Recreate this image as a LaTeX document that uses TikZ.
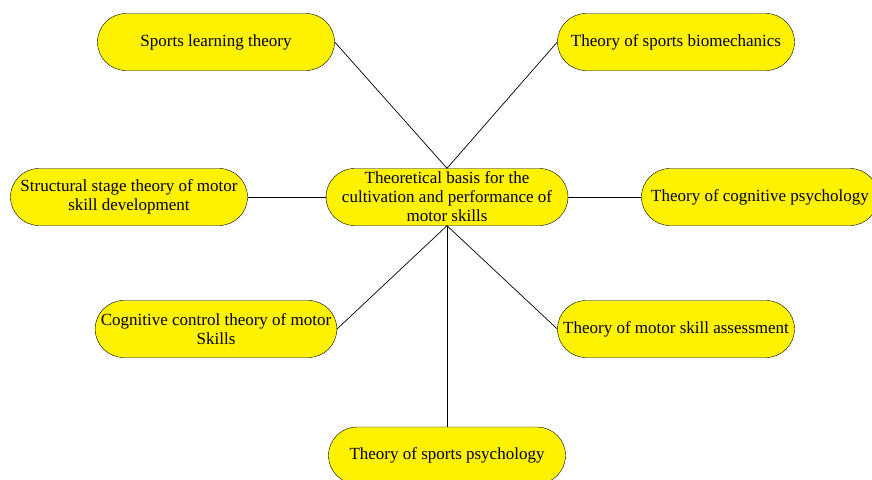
\documentclass[tikz,border=0pt]{standalone}
\usepackage{fontspec}
\setmainfont{Liberation Serif}
\usetikzlibrary{shapes.misc}
\tikzset{
  theory/.style={draw, fill=yellow, rounded rectangle, minimum width=239pt, minimum height=57pt,
    inner sep=1pt, align=center, font=\fontsize{17}{19}\selectfont},
  link/.style={draw, line width=0.7pt}
}
\begin{document}
\begin{tikzpicture}[x=1pt, y=-1pt]
\useasboundingbox (0,0) rectangle (872,479);
\clip (0,0) rectangle (872,479);
\node[theory] (basis) at (447,197) {Theoretical basis for the\\cultivation and performance of\\motor skills};
\node[theory] (learning) at (216,42) {Sports learning theory};
\node[theory] (biomech) at (676,42) {Theory of sports biomechanics};
\node[theory] (stage) at (129,197) {Structural stage theory of motor\\skill development};
\node[theory] (cogpsy) at (760,197) {Theory of cognitive psychology};
\node[theory] (control) at (216,329) {Cognitive control theory of motor\\Skills};
\node[theory] (assess) at (676,329) {Theory of motor skill assessment};
\node[theory] (sportpsy) at (447,455.5) {Theory of sports psychology};
% connectors
\draw[link] (learning.east)--(basis.north);
\draw[link] (biomech.west)--(basis.north);
\draw[link] (stage.east)--(basis.west);
\draw[link] (basis.east)--(cogpsy.west);
\draw[link] (basis.south)--(control.east);
\draw[link] (basis.south)--(assess.west);
\draw[link] (basis.south)--(sportpsy.north);
\end{tikzpicture}
\end{document}
